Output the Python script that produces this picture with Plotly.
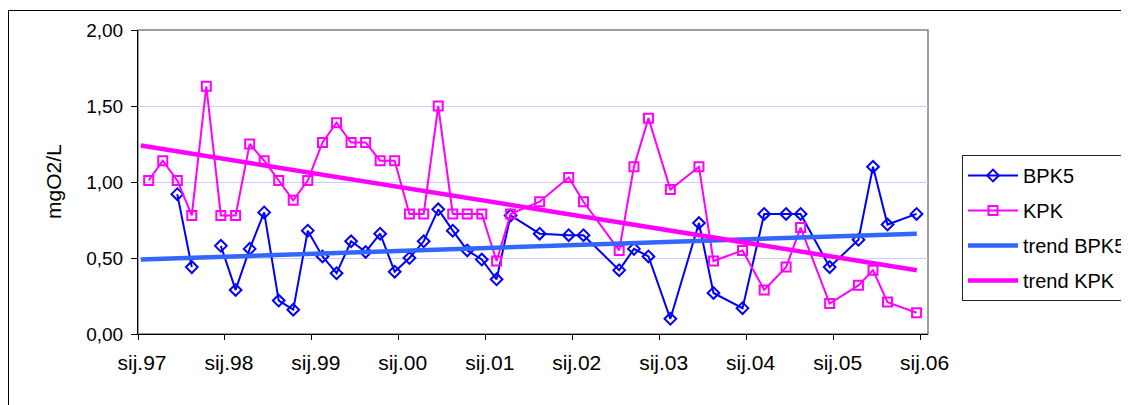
import plotly.graph_objects as go

# Sampling dates (year-month)
dates = ["1997-02", "1997-04", "1997-06", "1997-08", "1997-10", "1997-12",
         "1998-02", "1998-04", "1998-06", "1998-08", "1998-10", "1998-12",
         "1999-02", "1999-04", "1999-06", "1999-08", "1999-10", "1999-12",
         "2000-02", "2000-04", "2000-06", "2000-08", "2000-10", "2000-12",
         "2001-02", "2001-04", "2001-08", "2001-12",
         "2002-02", "2002-07", "2002-09", "2002-11",
         "2003-02", "2003-06", "2003-08", "2003-12",
         "2004-03", "2004-06", "2004-08", "2004-12",
         "2005-04", "2005-06", "2005-08", "2005-12"]

bpk5 = [None, None, 0.92, 0.44, None, 0.58,
        0.29, 0.56, 0.80, 0.22, 0.16, 0.68,
        0.51, 0.40, 0.61, 0.54, 0.66, 0.41,
        0.50, 0.61, 0.82, 0.68, 0.55, 0.49,
        0.36, 0.78, 0.66, 0.65,
        0.65, 0.42, 0.56, 0.51,
        0.10, 0.73, 0.27, 0.17,
        0.79, 0.79, 0.79, 0.44,
        0.62, 1.10, 0.72, 0.79]

kpk = [1.01, 1.14, 1.01, 0.78, 1.63, 0.78,
       0.78, 1.25, 1.14, 1.01, 0.88, 1.01,
       1.26, 1.39, 1.26, 1.26, 1.14, 1.14,
       0.79, 0.79, 1.50, 0.79, 0.79, 0.79,
       0.48, 0.79, 0.87, 1.03,
       0.87, 0.55, 1.10, 1.42,
       0.95, 1.10, 0.48, 0.55,
       0.29, 0.44, 0.70, 0.20,
       0.32, 0.42, 0.21, 0.14]

# Linear trend lines (end points)
trend_dates = ["1997-01-13", "2005-12-16"]
trend_bpk5 = [0.49, 0.66]
trend_kpk = [1.24, 0.42]

tick_dates = ["1997-01-01", "1998-01-01", "1999-01-01", "2000-01-01", "2001-01-01",
              "2002-01-01", "2003-01-01", "2004-01-01", "2005-01-01", "2006-01-01"]
tick_labels = ["sij.97", "sij.98", "sij.99", "sij.00", "sij.01",
               "sij.02", "sij.03", "sij.04", "sij.05", "sij.06"]

x_mid = [d + "-15" for d in dates]

OFF = 8  # page body margin
W, H = 1129 - OFF, 405 - OFF
# plot area in screen pixels: x 138..928, y 30..334
L, T = 138 - OFF, 30 - OFF
pw, ph = 790, 304
R = W - L - pw
B = H - T - ph

def px_x(p):
    return (p - OFF - L) / pw

def px_y(p):
    return (T + ph - (p - OFF)) / ph

FONT = "Liberation Sans, Arial, sans-serif"

fig = go.Figure()
fig.add_trace(go.Scatter(
    x=x_mid, y=bpk5, name="BPK5", mode="lines+markers",
    line=dict(color="#0000ff", width=2),
    marker=dict(symbol="diamond-open", size=9, color="#0000ff", line=dict(width=2)),
    legendgroup="a"))
fig.add_trace(go.Scatter(
    x=x_mid, y=kpk, name="KPK", mode="lines+markers",
    line=dict(color="#ff00ff", width=2),
    marker=dict(symbol="square-open", size=9, color="#ff00ff", line=dict(width=2)),
    legendgroup="b"))
fig.add_trace(go.Scatter(
    x=trend_dates, y=trend_bpk5, name="trend BPK5", mode="lines",
    line=dict(color="#3366ff", width=4.5), legendgroup="c"))
fig.add_trace(go.Scatter(
    x=trend_dates, y=trend_kpk, name="trend KPK", mode="lines",
    line=dict(color="#ff00ff", width=4.5), legendgroup="d"))

fig.update_layout(
    width=W, height=H,
    margin=dict(l=L, r=R, t=T, b=B, autoexpand=False),
    paper_bgcolor="white", plot_bgcolor="white",
    separators=",.",
    font=dict(family=FONT, color="black", size=19),
    showlegend=True,
    legend=dict(
        x=px_x(962), y=px_y(155), xanchor="left", yanchor="top",
        bordercolor="#222222", borderwidth=1, bgcolor="white",
        font=dict(size=20, family=FONT), tracegroupgap=6,
        itemwidth=50, traceorder="grouped"),
    xaxis=dict(
        type="date", range=["1997-01-01", "2006-02-01"],
        tickmode="array", tickvals=tick_dates, ticktext=tick_labels,
        ticks="outside", ticklen=5, tickcolor="black",
        ticklabelstandoff=5, ticklabelshift=4,
        showline=True, linecolor="black", linewidth=1,
        showgrid=False, zeroline=False,
        tickfont=dict(size=21, family=FONT)),
    yaxis=dict(
        range=[0, 2], tickmode="linear", tick0=0, dtick=0.5,
        tickformat=".2f",
        ticks="outside", ticklen=6, tickcolor="black",
        ticklabelstandoff=4,
        showline=True, linecolor="black", linewidth=1,
        showgrid=True, gridcolor="#ccccff", gridwidth=1,
        zeroline=False, tickfont=dict(size=19, family=FONT)),
    annotations=[dict(
        text="mgO2/L", xref="paper", yref="paper",
        x=px_x(53), y=0.5, xanchor="center", yanchor="middle",
        textangle=-90, showarrow=False,
        font=dict(size=21, family=FONT))],
    shapes=[
        dict(type="rect", xref="paper", yref="paper", x0=0, x1=1, y0=0, y1=1,
             line=dict(color="#808080", width=1.5), layer="below"),
        dict(type="rect", xref="paper", yref="paper",
             x0=px_x(8.5), x1=px_x(1140), y0=px_y(420), y1=px_y(10.5),
             line=dict(color="black", width=1), layer="below"),
    ],
)

fig.write_html("out.html")
